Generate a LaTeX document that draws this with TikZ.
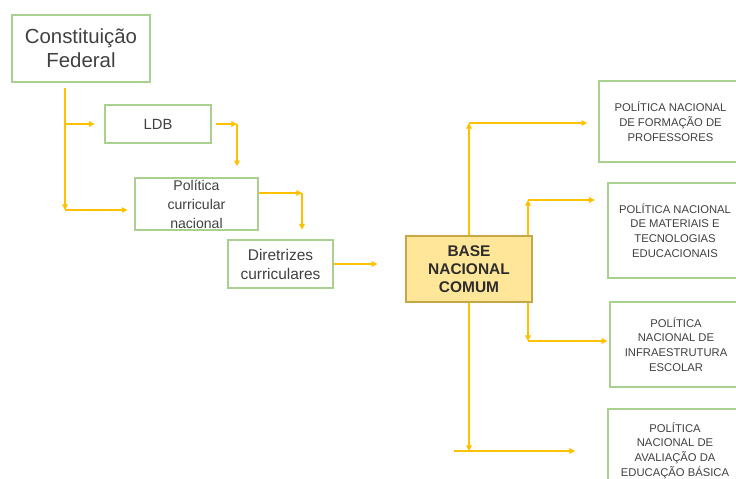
\documentclass[tikz,border=0pt]{standalone}
\usepackage{fontspec}
\setmainfont{Liberation Sans}
\usetikzlibrary{arrows.meta}
\definecolor{boxgreen}{RGB}{169,208,142}
\definecolor{linegold}{RGB}{255,192,0}
\definecolor{basefill}{RGB}{255,230,153}
\definecolor{baseline}{RGB}{196,168,70}
\definecolor{txtgray}{RGB}{64,64,64}
\begin{document}
\begin{tikzpicture}[x=0.025cm, y=-0.025cm,
    greenbox/.style={draw=boxgreen, line width=0.8pt, rectangle, align=center, text=txtgray, inner sep=1pt},
    rightbox/.style={greenbox, font=\fontsize{8}{10.5}\selectfont},
    conn/.style={draw=linegold, line width=0.8pt, -{Triangle[length=4pt,width=4pt]}}]
    \useasboundingbox (0,0) rectangle (736,479);
    \clip (0,0) rectangle (736,479);

    % Left chain
    \node[greenbox, minimum width=3.45cm, minimum height=1.675cm, font=\fontsize{14.5}{17}\selectfont] (cf) at (81,48.5) {Constitui\c{c}\~ao\\Federal};
    \node[greenbox, minimum width=2.65cm, minimum height=0.95cm, font=\fontsize{10.5}{12}\selectfont] (ldb) at (158,124) {LDB};
    \node[greenbox, minimum width=3.075cm, minimum height=1.3cm, font=\fontsize{10}{13.5}\selectfont] (pcn) at (196.5,204) {Pol\'itica\\curricular\\nacional};
    \node[greenbox, minimum width=2.625cm, minimum height=1.2cm, font=\fontsize{11}{13.5}\selectfont] (dir) at (280.5,264) {Diretrizes\\curriculares};

    % Base
    \node[draw=baseline, fill=basefill, line width=0.8pt, align=center, text=txtgray!70!black, minimum width=3.15cm, minimum height=1.65cm, font=\bfseries\fontsize{11}{13}\selectfont] (base) at (469,269) {BASE\\NACIONAL\\COMUM};

    % Policies
    \node[rightbox, minimum width=3.575cm, minimum height=2.025cm] (pfp) at (670.5,121.5) {POL\'ITICA NACIONAL\\DE FORMA\c{C}\~AO DE\\PROFESSORES};
    \node[rightbox, minimum width=3.35cm, minimum height=2.375cm] (pmt) at (675,230.5) {POL\'ITICA NACIONAL\\DE MATERIAIS E\\TECNOLOGIAS\\EDUCACIONAIS};
    \node[rightbox, minimum width=3.3cm, minimum height=2.125cm] (pie) at (676,344.5) {POL\'ITICA\\NACIONAL DE\\INFRAESTRUTURA\\ESCOLAR};
    \node[rightbox, minimum width=3.35cm, minimum height=2.075cm] (pab) at (675,450.5) {POL\'ITICA\\NACIONAL DE\\AVALIA\c{C}\~AO DA\\EDUCA\c{C}\~AO B\'ASICA};

    % Bends
    \coordinate (j1) at (65,210);
    \coordinate (j2) at (237,124);
    \coordinate (j3) at (302,193);
    \coordinate (k1) at (469,123);
    \coordinate (k2) at (528,200);
    \coordinate (k3) at (528,341);
    \coordinate (k4) at (469,451);

    % Arrows
    \draw[conn, shorten <=4pt] (cf.south -| j1) -- (j1);
    \draw[conn, shorten >=5pt] (j1) -- (pcn.west |- j1);
    \draw[conn, shorten >=7pt] (j1 |- ldb.west) -- (ldb.west);
    \draw[conn, shorten <=3pt] (ldb.east) -- (j2);
    \draw[conn, shorten >=8pt] (j2) -- (pcn.north -| j2);
    \draw[conn] (pcn.east |- j3) -- (j3);
    \draw[conn, shorten >=7pt] (j3) -- (dir.north -| j3);
    \draw[conn, shorten >=20pt] (dir.east) -- (base.west |- dir.east);
    \draw[conn] (base.north -| k1) -- (k1);
    \draw[conn, shorten >=8pt] (k1) -- (pfp.west |- k1);
    \draw[conn] (base.north -| k2) -- (k2);
    \draw[conn, shorten >=9pt] (k2) -- (pmt.west |- k2);
    \draw[conn] (base.south -| k3) -- (k3);
    \draw[conn, shorten >=1.5pt] (k3) -- (pie.west |- k3);
    \draw[conn] (base.south -| k4) -- (k4);
    \draw[conn, shorten <=-11pt, shorten >=23pt] (k4) -- (pab.west |- k4);
\end{tikzpicture}
\end{document}
